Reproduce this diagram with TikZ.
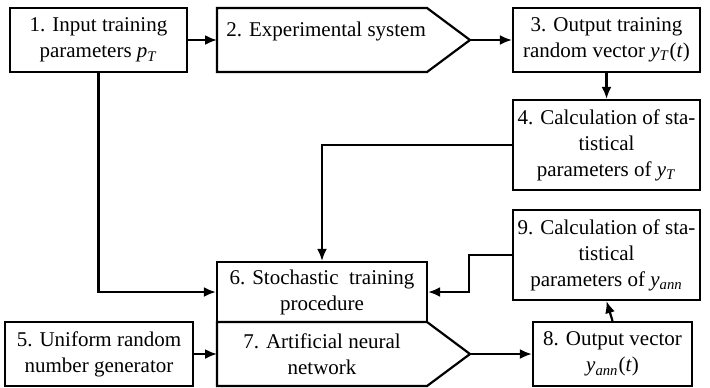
\documentclass[tikz,border=0pt]{standalone}
\usepackage{fontspec}
\setmainfont{Liberation Serif}
\usepackage{tikz}
\usetikzlibrary{calc}
\usetikzlibrary{arrows.meta}

\tikzset{
  box/.style={draw, line width=1.1pt, align=center, inner sep=0pt,
    font=\fontsize{10.5}{13}\selectfont},
  lbl/.style={align=center, inner sep=0pt, font=\fontsize{10.5}{13}\selectfont},
  link/.style={line width=1.1pt, -{Latex[length=6pt,width=5pt]}},
}
\newcommand{\yT}{\textit{y}\textsubscript{\textit{T}}}
\newcommand{\yann}{\textit{y}\textsubscript{\textit{ann}}}

\begin{document}
\begin{tikzpicture}[x=0.5pt, y=-0.5pt]
            \useasboundingbox (0,0) rectangle (710,387);
            % blocks
            \node[box, minimum width=88.5pt, minimum height=32pt] (b1) at (98.5,40) {1. Input training\\parameters \textit{p}\textsubscript{\textit{T}}};
            \draw[line width=1.1pt] (217,8) -- (427,8) -- (470,40) -- (427,72) -- (217,72) -- cycle;
            \node[lbl, anchor=west] (b2) at (226,31) {2. Experimental system};
            \coordinate (b2in) at (217,40);
            \coordinate (b2out) at (470,40);
            \node[box, minimum width=93.5pt, minimum height=32pt] (b3) at (606.5,40) {3. Output training\\random vector \yT(\textit{t})};
            \node[box, minimum width=93.5pt, minimum height=45pt] (b4) at (606.5,145) {4. Calculation of sta-\\tistical\\parameters of \yT};
            \node[box, minimum width=93.5pt, minimum height=45pt] (b9) at (606.5,255) {9. Calculation of sta-\\tistical\\parameters of \yann};
            \node[box, minimum width=105pt, minimum height=30pt] (b6) at (322,292) {6. Stochastic\ \ training\\procedure};
            \draw[line width=1.1pt] (217,322) -- (427,322) -- (470,354) -- (427,386) -- (217,386) -- cycle;
            \node[lbl] (b7) at (322,354) {7. Artificial neural\\network};
            \coordinate (b7in) at (217,354);
            \coordinate (b7out) at (470,354);
            \node[box, minimum width=94pt, minimum height=32pt] (b5) at (99,354) {5. Uniform random\\number generator};
            \node[box, minimum width=79.5pt, minimum height=32pt] (b8) at (612.5,354) {8. Output vector\\\yann(\textit{t})};
            % connections
            \draw[link] (b1.east) -- (b2in);
            \draw[link] (b2out) -- (b3.west);
            \draw[link] (b3.south) -- (b4.north);
            \draw[link] (b4.west) -| (b6.north);
            \draw[link] (b1.south) |- (b6.west);
            \draw[link] (b9.west) -- ++(-43,0) |- (b6.east);
            \draw[link] (b5.east) -- (b7in);
            \draw[link] (b7out) -- (b8.west);
            \draw[link] (b8.north) -- (b9.south);
        \end{tikzpicture}
\end{document}
